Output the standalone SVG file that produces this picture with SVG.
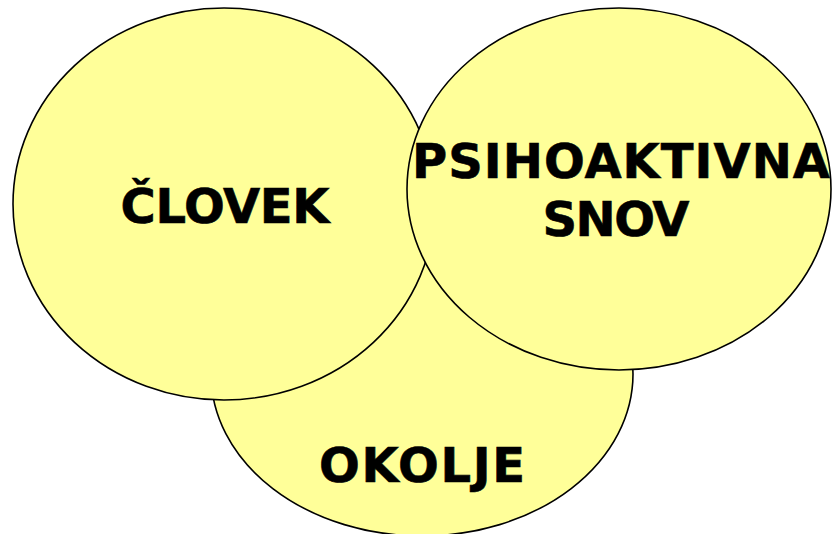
<svg xmlns="http://www.w3.org/2000/svg" width="832" height="534" viewBox="0 0 832 534">
<style>
.c{fill:#FFFF99;stroke:#000;stroke-width:1.6}
.t{font-family:"DejaVu Sans",Verdana,sans-serif;font-weight:bold;font-size:48px;fill:#000;stroke:#000;stroke-width:0.6;text-anchor:middle}
</style>
<rect width="832" height="534" fill="#fff"/>
<g id="okolje">
<ellipse class="c" cx="422" cy="374" rx="211" ry="162"/>
<text class="t" x="422" y="482" textLength="206">OKOLJE</text>
</g>
<g id="clovek">
<ellipse class="c" cx="224" cy="204" rx="211" ry="196"/>
<text class="t" x="225" y="223" textLength="209">ČLOVEK</text>
</g>
<g id="psihoaktivna-snov">
<ellipse class="c" cx="619" cy="189" rx="212" ry="181"/>
<text class="t" x="621" y="178" textLength="418">PSIHOAKTIVNA</text>
<text class="t" x="616" y="236" textLength="147">SNOV</text>
</g>
<g id="connectors"/>
</svg>
